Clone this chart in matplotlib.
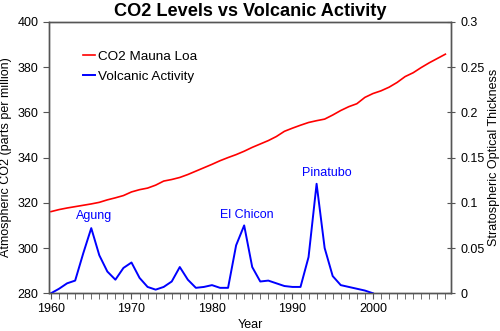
import matplotlib.pyplot as plt
from matplotlib.ticker import MultipleLocator

plt.rcParams['font.family'] = ['Liberation Sans', 'DejaVu Sans']

years = list(range(1960, 2010))

# CO2 at Mauna Loa, ppm
co2 = [316.1, 317.0, 317.7, 318.3, 318.9, 319.5, 320.2, 321.3, 322.2, 323.2,
       324.8, 325.8, 326.5, 327.8, 329.6, 330.3, 331.2, 332.5, 334.0, 335.5,
       337.0, 338.6, 340.0, 341.3, 342.8, 344.5, 346.0, 347.5, 349.3, 351.6,
       353.0, 354.3, 355.5, 356.3, 357.0, 358.8, 360.8, 362.5, 363.8, 366.6,
       368.3, 369.5, 371.1, 373.2, 375.8, 377.5, 379.8, 381.9, 383.8, 385.7]

# stratospheric optical thickness, 1960-2000
volc_years = list(range(1960, 2001))
volc = [0.000, 0.005, 0.011, 0.014, 0.044, 0.072, 0.042, 0.024, 0.015, 0.028,
        0.034, 0.017, 0.007, 0.004, 0.007, 0.013, 0.029, 0.015, 0.006, 0.007,
        0.009, 0.006, 0.006, 0.053, 0.075, 0.029, 0.013, 0.014, 0.011, 0.008,
        0.007, 0.007, 0.040, 0.121, 0.050, 0.019, 0.009, 0.007, 0.005, 0.003,
        0.000]

eruptions = ['Agung', 'El Chicon', 'Pinatubo']
eruption_x = [1965.3, 1984.3, 1994.3]
eruption_y = [0.085, 0.087, 0.133]

fig = plt.figure(figsize=(5, 3.31), dpi=100)
ax = fig.add_axes([0.098, 0.114, 0.804, 0.82])
ax2 = ax.twinx()

l1, = ax.plot(years, co2, color='#ff0000', lw=1.2, label='CO2 Mauna Loa')
l2, = ax2.plot(volc_years, volc, color='#0000ff', lw=1.4, label='Volcanic Activity')

for name, x, y in zip(eruptions, eruption_x, eruption_y):
    ax2.text(x, y, name, color='#0000ff', fontsize=9, ha='center', va='center')

ax.set_xlim(1959.75, 2009.7)
ax.set_ylim(280, 400)
ax2.set_ylim(0, 0.3)
ax.set_xticks([1960, 1970, 1980, 1990, 2000])
ax.xaxis.set_minor_locator(MultipleLocator(1))
ax.set_yticks(range(280, 401, 20))
ax2.set_yticks([0, 0.05, 0.1, 0.15, 0.2, 0.25, 0.3])
ax2.set_yticklabels(['0', '0.05', '0.1', '0.15', '0.2', '0.25', '0.3'])

spine_col = '#555555'
for a in (ax, ax2):
    for s in a.spines.values():
        s.set_color(spine_col)
        s.set_linewidth(1)
ax.tick_params(axis='x', which='both', direction='out', length=4, color=spine_col,
               labelsize=9, pad=3)
ax.tick_params(axis='y', direction='out', length=4, color=spine_col, labelsize=9)
ax2.tick_params(axis='y', direction='inout', length=6, color=spine_col, labelsize=9)

ax.set_xlabel('Year', fontsize=9, labelpad=3)
ax.set_ylabel('Atmospheric CO2 (parts per million)', fontsize=9, labelpad=4)
ax2.set_ylabel('Stratospheric Optical Thickness', fontsize=9, labelpad=3)
ax.set_title('CO2 Levels vs Volcanic Activity', fontsize=13.1, fontweight='bold', pad=4)

ax.legend(handles=[l1, l2], loc='upper left', bbox_to_anchor=(0.055, 0.94),
          frameon=False, fontsize=9.7, handlelength=0.9, handletextpad=0.2,
          labelspacing=0.6)

fig.savefig('out.png', dpi=100)
